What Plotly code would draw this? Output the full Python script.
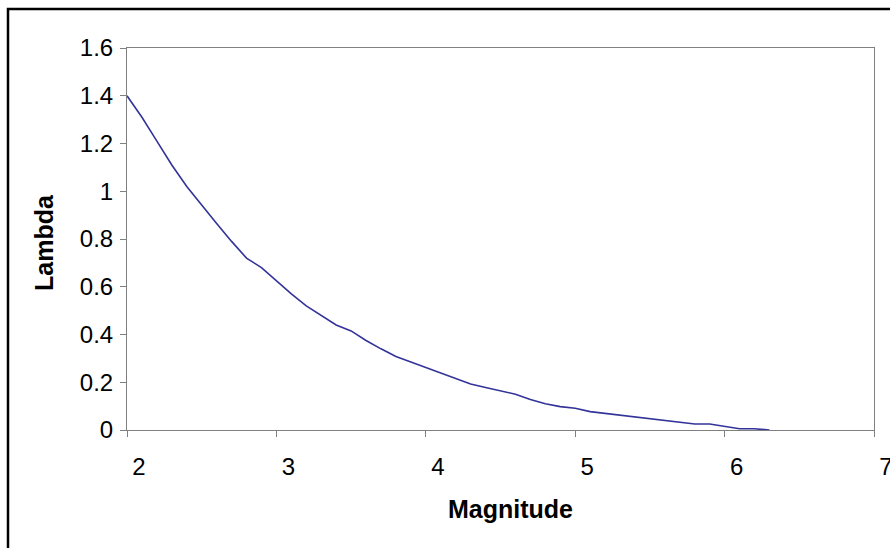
import plotly.graph_objects as go

magnitude = [2.0, 2.1, 2.2, 2.3, 2.4, 2.5, 2.6, 2.7, 2.8, 2.9,
             3.0, 3.1, 3.2, 3.3, 3.4, 3.5, 3.6, 3.7, 3.8, 3.9,
             4.0, 4.1, 4.2, 4.3, 4.4, 4.5, 4.6, 4.7, 4.8, 4.9,
             5.0, 5.1, 5.2, 5.3, 5.4, 5.5, 5.6, 5.7, 5.8, 5.9,
             6.0, 6.1, 6.2, 6.3]
lam = [1.40, 1.31, 1.21, 1.11, 1.02, 0.94, 0.865, 0.79, 0.72, 0.68,
       0.625, 0.57, 0.52, 0.48, 0.44, 0.415, 0.375, 0.34, 0.308, 0.285,
       0.262, 0.24, 0.215, 0.193, 0.178, 0.165, 0.15, 0.128, 0.11, 0.098,
       0.091, 0.077, 0.07, 0.062, 0.055, 0.047, 0.04, 0.032, 0.025, 0.025,
       0.016, 0.005, 0.005, 0.0]

x_ticks = [2, 3, 4, 5, 6, 7]
y_ticks = [0, 0.2, 0.4, 0.6, 0.8, 1, 1.2, 1.4, 1.6]
y_labels = ["0", "0.2", "0.4", "0.6", "0.8", "1", "1.2", "1.4", "1.6"]

FONT = "Liberation Sans, Arial, sans-serif"
W, H = 890, 548
L, R, T, B = 127, 16, 48, 118
pw, ph = W - L - R, H - T - B

fig = go.Figure()
fig.add_trace(go.Scatter(x=magnitude, y=lam, mode="lines",
                         line=dict(color="#333399", width=1.6),
                         showlegend=False, hoverinfo="skip"))

fig.update_layout(
    width=W, height=H,
    margin=dict(l=L, r=R, t=T, b=B, pad=0, autoexpand=False),
    paper_bgcolor="white", plot_bgcolor="white",
    font=dict(family=FONT, color="black", size=24),
    xaxis=dict(range=[2, 7], tickvals=x_ticks, ticktext=[str(v) for v in x_ticks],
               showgrid=False, zeroline=False, showline=True, mirror=True,
               linecolor="#808080", linewidth=1,
               ticks="outside", ticklen=6, tickcolor="#808080", tickwidth=1,
               tickfont=dict(size=24, family=FONT),
               ticklabelshift=12, ticklabelstandoff=9,
               ticklabeloverflow="allow"),
    yaxis=dict(range=[0, 1.6], tickvals=y_ticks, ticktext=y_labels,
               showgrid=False, zeroline=False, showline=True, mirror=True,
               linecolor="#808080", linewidth=1,
               ticks="outside", ticklen=6, tickcolor="#808080", tickwidth=1,
               tickfont=dict(size=24, family=FONT),
               ticklabelstandoff=2, ticklabeloverflow="allow"),
)

def px_to_paper_x(px):
    return (px - L) / pw

def px_to_paper_y(py):
    return (H - B - py) / ph

# outer chart border (extends past the right and bottom of the view)
fig.add_shape(type="rect", xref="paper", yref="paper",
              x0=px_to_paper_x(8), x1=px_to_paper_x(900),
              y0=px_to_paper_y(560), y1=px_to_paper_y(9),
              line=dict(color="black", width=2.5), layer="below")

fig.add_annotation(text="<b>Magnitude</b>", xref="paper", yref="paper",
                   x=px_to_paper_x(511), y=px_to_paper_y(509),
                   showarrow=False, xanchor="center", yanchor="middle",
                   font=dict(size=25, family=FONT, color="black"))
fig.add_annotation(text="<b>Lambda</b>", xref="paper", yref="paper",
                   x=px_to_paper_x(44), y=px_to_paper_y(243),
                   showarrow=False, xanchor="center", yanchor="middle",
                   textangle=-90,
                   font=dict(size=25, family=FONT, color="black"))

fig.write_html(
    "out.html",
    config={"displayModeBar": False},
    post_script="document.body.style.margin='0';document.body.style.overflow='hidden';",
)
